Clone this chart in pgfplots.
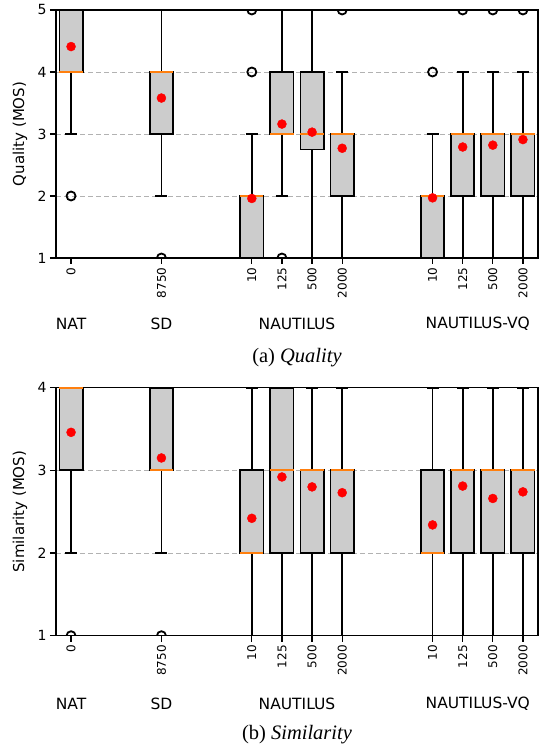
\documentclass[border=0pt]{standalone}
\usepackage{fontspec}
\usepackage{pgfplots}
\pgfplotsset{compat=1.18}
\usepgfplotslibrary{statistics}
\newfontfamily\dejavu{DejaVu Sans}
\newfontfamily\capfont{Liberation Serif}
\definecolor{mplorange}{HTML}{FF7F0E}
\definecolor{boxgray}{HTML}{CCCCCC}

\pgfplotsset{
  mosbox/.style={
    scale only axis, width=482pt, height=248pt,
    xmin=-0.5, xmax=15.5,
    xtick={0,3,6,7,8,9,12,13,14,15},
    xticklabels={0,8750,10,125,500,2000,10,125,500,2000},
    xticklabel style={rotate=90, anchor=east, font=\dejavu\fontsize{12}{14}\selectfont},
    yticklabel style={font=\dejavu\fontsize{14}{16}\selectfont},
    /pgf/number format/assume math mode=true,
    tick align=outside, tick pos=left, major tick length=6pt,
    tick style={black, line width=1.2pt},
    axis line style={black, line width=1.2pt},
    ymajorgrids, grid style={black!30, line width=0.8pt, dash pattern=on 5pt off 3pt},
    every axis y label/.style={at={([xshift=-36pt]axis description cs:0,0.5)}, rotate=90,
      anchor=center, font=\dejavu\fontsize{15}{17}\selectfont},
    clip marker paths=true,
    boxplot/draw direction=y,
    boxplot/box extend=0.77, boxplot/whisker extend=0.4,
    boxplot/every box/.style={fill=boxgray, line width=1.8pt},
    boxplot/every median/.style={draw=mplorange, line width=1.8pt},
  },
  whisk/.style={black, line width=1.7pt, solid},
  outl/.style={only marks, mark=o, black, mark size=4.5pt, line width=1.8pt},
  meanpt/.style={only marks, mark=*, red, mark size=4.5pt},
}
\tikzset{
  grplab/.style={font=\dejavu\fontsize{15.5}{18}\selectfont, anchor=center},
  captxt/.style={font=\capfont\fontsize{20.5}{24}\selectfont, anchor=center},
}
% draw position, lower whisker, lower quartile, median, upper quartile, upper whisker
\newcommand{\bx}[6]{\addplot[whisk, boxplot prepared={draw position=#1, lower whisker=#2,
  lower quartile=#3, median=#4, upper quartile=#5, upper whisker=#6}] coordinates {};}

\begin{document}
\begin{tikzpicture}
\useasboundingbox (0,0) rectangle (542pt,747pt);

% (a) Quality
\begin{axis}[mosbox, at={(56pt,489pt)}, anchor=south west,
  ymin=1, ymax=5, ytick={1,2,3,4,5}, ylabel={Quality (MOS)}]
\bx{0}{3}{4}{4}{5}{5}
\bx{3}{2}{3}{4}{4}{5}
\bx{6}{1}{1}{2}{2}{3}
\bx{7}{2}{3}{3}{4}{5}
\bx{8}{1}{2.75}{3}{4}{5}
\bx{9}{1}{2}{3}{3}{4}
\bx{12}{1}{1}{2}{2}{3}
\bx{13}{1}{2}{3}{3}{4}
\bx{14}{1}{2}{3}{3}{4}
\bx{15}{1}{2}{3}{3}{4}
\addplot[outl] coordinates {(0,2) (3,1) (6,4) (6,5) (7,1) (9,5) (12,4) (13,5) (14,5) (15,5)};
\addplot[meanpt] coordinates {(0,4.41) (3,3.58) (6,1.96) (7,3.16) (8,3.03) (9,2.77)
  (12,1.97) (13,2.79) (14,2.82) (15,2.91)};
\coordinate (a0) at (axis cs:0,1);
\coordinate (a1) at (axis cs:3,1);
\coordinate (a2) at (axis cs:7.5,1);
\coordinate (a3) at (axis cs:13.5,1);
\coordinate (ac) at (axis description cs:0.5,0);
\end{axis}
\node[grplab] at ([yshift=-66pt]a0) {NAT};
\node[grplab] at ([yshift=-66pt]a1) {SD};
\node[grplab] at ([yshift=-66pt]a2) {NAUTILUS};
\node[grplab] at ([yshift=-66pt]a3) {NAUTILUS-VQ};
\node[captxt] at ([yshift=-100pt]ac) {(a) \textit{Quality}};

% (b) Similarity
\begin{axis}[mosbox, at={(56pt,111.3pt)}, anchor=south west,
  ymin=1, ymax=4, ytick={1,2,3,4}, ylabel={Similarity (MOS)}]
\bx{0}{2}{3}{4}{4}{4}
\bx{3}{2}{3}{3}{4}{4}
\bx{6}{1}{2}{2}{3}{4}
\bx{7}{1}{2}{3}{4}{4}
\bx{8}{1}{2}{3}{3}{4}
\bx{9}{1}{2}{3}{3}{4}
\bx{12}{1}{2}{2}{3}{4}
\bx{13}{1}{2}{3}{3}{4}
\bx{14}{1}{2}{3}{3}{4}
\bx{15}{1}{2}{3}{3}{4}
\addplot[outl] coordinates {(0,1) (3,1)};
\addplot[meanpt] coordinates {(0,3.46) (3,3.15) (6,2.42) (7,2.92) (8,2.80) (9,2.73)
  (12,2.34) (13,2.81) (14,2.66) (15,2.74)};
\coordinate (b0) at (axis cs:0,1);
\coordinate (b1) at (axis cs:3,1);
\coordinate (b2) at (axis cs:7.5,1);
\coordinate (b3) at (axis cs:13.5,1);
\coordinate (bc) at (axis description cs:0.5,0);
\end{axis}
\node[grplab] at ([yshift=-68pt]b0) {NAT};
\node[grplab] at ([yshift=-68pt]b1) {SD};
\node[grplab] at ([yshift=-68pt]b2) {NAUTILUS};
\node[grplab] at ([yshift=-68pt]b3) {NAUTILUS-VQ};
\node[captxt] at ([yshift=-99pt]bc) {(b) \textit{Similarity}};
\end{tikzpicture}
\end{document}
